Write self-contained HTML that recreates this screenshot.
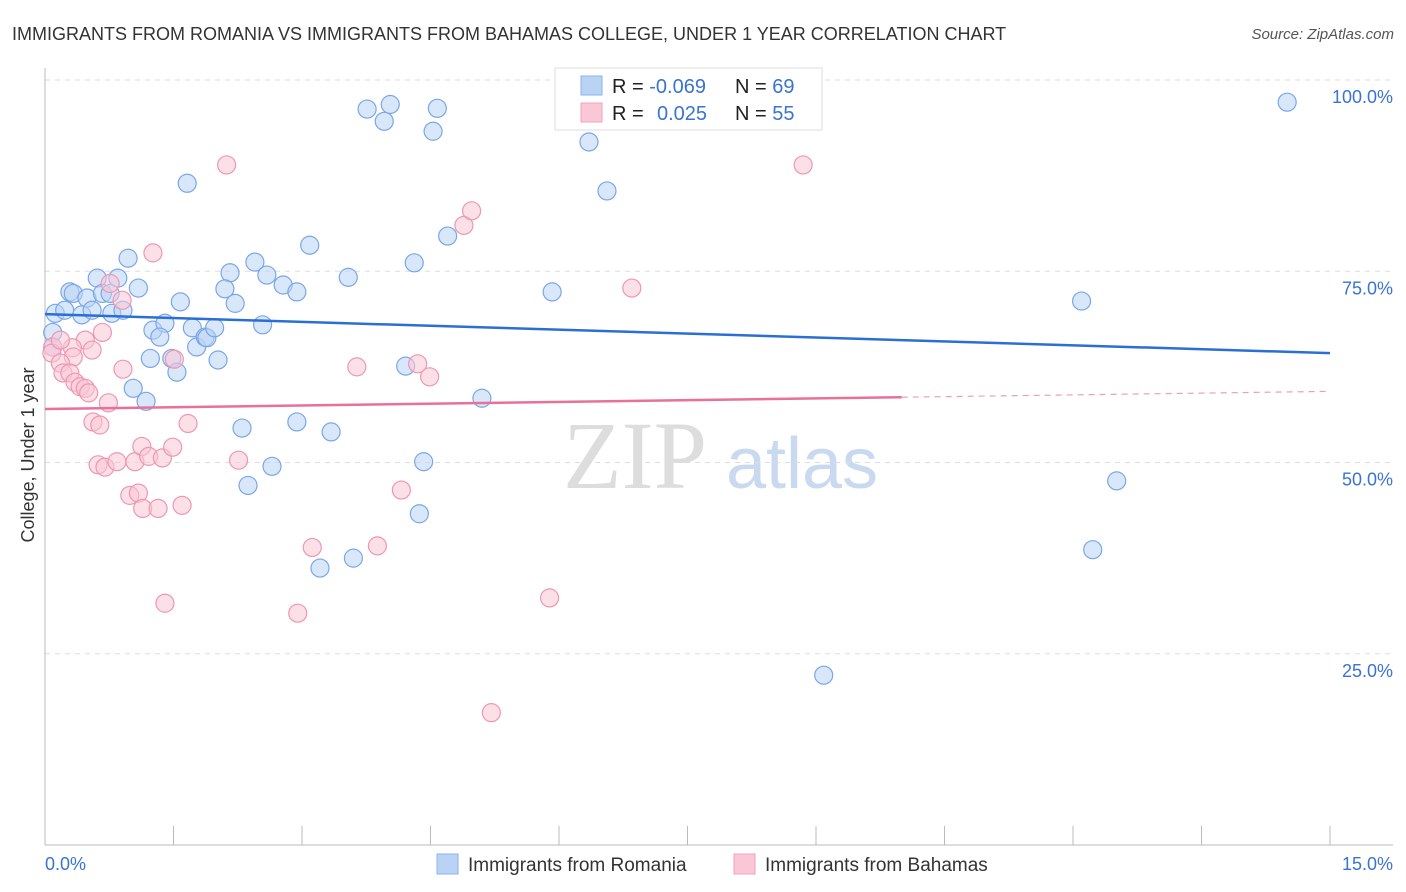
<!DOCTYPE html>
<html><head><meta charset="utf-8">
<style>
body{margin:0;background:#fff;font-family:"Liberation Sans",sans-serif;}
svg{display:block}
</style></head>
<body>
<svg id="chart" width="1406" height="892" xmlns="http://www.w3.org/2000/svg">
<text x="12" y="40" font-size="18" fill="#333">IMMIGRANTS FROM ROMANIA VS IMMIGRANTS FROM BAHAMAS COLLEGE, UNDER 1 YEAR CORRELATION CHART</text>
<text x="1394" y="39" font-size="15" fill="#555" font-style="italic" text-anchor="end">Source: ZipAtlas.com</text>
<g>
<text x="635" y="488" font-size="96" font-family="Liberation Serif,serif" fill="#ddd" text-anchor="middle">ZIP</text>
<text x="802" y="488" font-size="72" fill="#c9daf0" text-anchor="middle">atlas</text>
</g>
<g id="grid"></g>
<g id="axes"></g>
<g id="pts"></g>
<g id="trends"></g>
<text transform="translate(34,455) rotate(-90)" font-size="18" fill="#333" text-anchor="middle">College, Under 1 year</text>
<g>
<rect x="555" y="68" width="267" height="62" fill="#fff" stroke="#ddd"/>
<rect x="581" y="76" width="21" height="19" fill="#b9d3f5" stroke="#8ab4ea"/>
<rect x="581" y="103" width="21" height="19" fill="#f9c7d6" stroke="#f0a3bb"/>
<text x="612" y="93" font-size="20" fill="#222">R = <tspan fill="#3a73d0">-0.069</tspan>  <tspan x="735">N = </tspan><tspan fill="#3a73d0">69</tspan></text>
<text x="612" y="120" font-size="20" fill="#222">R = <tspan x="657" fill="#3a73d0">0.025</tspan><tspan x="735">N = </tspan><tspan fill="#3a73d0">55</tspan></text>
</g>
<g>
<rect x="437" y="854" width="21" height="20" fill="#b9d3f5" stroke="#8ab4ea"/>
<text x="468" y="871" font-size="19" fill="#333">Immigrants from Romania</text>
<rect x="734" y="854" width="21" height="20" fill="#f9c7d6" stroke="#f0a3bb"/>
<text x="765" y="871" font-size="19" fill="#333">Immigrants from Bahamas</text>
</g>
</svg>
<script>
const xTickLabels=["0.0%","15.0%"];
const yTicks=[25,50,75,100];
const yTickLabels=["25.0%","50.0%","75.0%","100.0%"];
const romaniaX=[0.12,0.23,0.09,0.09,0.29,0.33,0.49,0.61,0.85,0.97,1.09,0.67,0.76,0.43,0.55,0.78,0.91,1.58,2.16,2.45,2.59,2.78,2.94,3.09,2.10,2.22,2.54,1.26,1.40,1.34,1.72,1.77,1.87,1.89,1.98,1.23,1.48,1.54,2.02,1.03,1.18,2.30,2.94,2.65,2.37,3.34,3.21,3.60,4.37,4.42,4.21,5.10,3.76,4.03,3.96,4.53,4.58,3.54,4.31,4.70,6.35,6.56,5.92,14.50,12.10,12.51,12.23,9.09,1.66];
const romaniaY=[69.5,69.9,67.0,65.1,72.3,72.1,71.5,74.1,74.1,76.7,72.8,72.1,72.1,69.3,69.9,69.5,69.9,71.0,74.8,76.2,74.5,73.2,72.3,78.4,72.7,70.8,68.0,67.3,68.2,66.4,67.6,65.1,66.4,66.3,67.6,63.6,63.6,61.8,63.4,59.7,58.0,54.5,55.3,49.5,47.0,54.0,36.2,37.5,43.3,50.1,62.6,58.4,96.2,96.8,94.6,93.3,96.3,74.2,76.1,79.6,91.9,85.5,72.3,97.1,71.1,47.6,38.6,22.2,86.5];
const bahamasX=[1.26,0.76,0.90,0.67,0.47,0.55,0.32,0.33,0.09,0.08,0.18,0.21,0.29,0.35,0.41,0.47,0.51,0.91,0.74,0.56,0.64,1.67,2.26,0.62,0.70,0.84,1.05,1.13,1.21,1.37,1.49,0.99,1.09,1.14,1.32,1.60,2.12,1.51,1.40,2.95,3.12,3.64,3.88,4.16,4.35,4.49,4.89,4.98,5.21,5.89,6.85,8.85,0.18];
const bahamasY=[77.4,73.4,71.2,67.0,66.0,64.7,65.0,63.8,65.1,64.3,63.0,61.7,61.7,60.5,59.9,59.7,59.1,62.2,57.8,55.3,54.9,55.1,50.3,49.7,49.4,50.1,50.1,52.1,50.8,50.6,52.0,45.7,46.0,44.0,44.0,44.4,88.9,63.5,31.6,30.3,38.9,62.5,39.1,46.4,62.9,61.2,81.0,82.9,17.3,32.3,72.8,88.9,66.0];
const romaniaTrend=[69.4,64.3];
const bahamasTrend=[57.0,59.3];

const NS="http://www.w3.org/2000/svg";
const X0=45,X1=1330,Y0=845,Y100=80;
const sx=v=>X0+(v/15)*(X1-X0);
const sy=v=>Y0-(v/100)*(Y0-Y100);
function mk(tag,attrs,parent){const e=document.createElementNS(NS,tag);for(const k in attrs)e.setAttribute(k,attrs[k]);parent.appendChild(e);return e;}
const grid=document.getElementById('grid'),axes=document.getElementById('axes'),pts=document.getElementById('pts'),tr=document.getElementById('trends');
yTicks.forEach((t,i)=>{
 const l=mk('line',{x1:X0,x2:1393,y1:sy(t),y2:sy(t),stroke:'#ddd','stroke-dasharray':'5,5'},grid);
 
 
 const tx=mk('text',{x:1393,y:sy(t)+23,'font-size':18,fill:'#3a73d0','text-anchor':'end'},axes);
 tx.textContent=yTickLabels[i];
 
 
});
const ya=mk('line',{x1:X0,x2:X0,y1:68,y2:Y0,stroke:'#bbb'},axes);


const xa=mk('line',{x1:X0,x2:1393,y1:Y0,y2:Y0,stroke:'#bbb'},axes);


for(let i=0;i<=10;i++){
 const t=mk('line',{x1:sx(i*1.5),x2:sx(i*1.5),y1:826,y2:Y0,stroke:'#bbb'},axes);
 
 
}
const xl0=mk('text',{x:45,y:870,'font-size':18,fill:'#3a73d0'},axes);xl0.textContent=xTickLabels[0];


const xl1=mk('text',{x:1393,y:870,'font-size':18,fill:'#3a73d0','text-anchor':'end'},axes);xl1.textContent=xTickLabels[1];


function dots(X,Y,fill,stroke,name){X.forEach((x,i)=>{
 const c=mk('circle',{cx:sx(x),cy:sy(Y[i]),r:9,fill:fill,'fill-opacity':0.55,stroke:stroke,'stroke-width':1.2},pts);
 
 
});}
dots(romaniaX,romaniaY,'#b9d3f5','#7aa7e6','romania-point');
dots(bahamasX,bahamasY,'#f9c7d6','#ee97b2','bahamas-point');
const bl=mk('line',{x1:sx(0),y1:sy(romaniaTrend[0]),x2:sx(15),y2:sy(romaniaTrend[1]),stroke:'#2a6fd6','stroke-width':2.5},tr);


const pm=bahamasTrend[0]+(bahamasTrend[1]-bahamasTrend[0])*(10/15);
const pl=mk('line',{x1:sx(0),y1:sy(bahamasTrend[0]),x2:sx(10),y2:sy(pm),stroke:'#e8709a','stroke-width':2.5},tr);


const pd=mk('line',{x1:sx(10),y1:sy(pm),x2:sx(15),y2:sy(bahamasTrend[1]),stroke:'#e8a0b8','stroke-width':1.2,'stroke-dasharray':'6,5'},tr);


</script>
</body></html>
